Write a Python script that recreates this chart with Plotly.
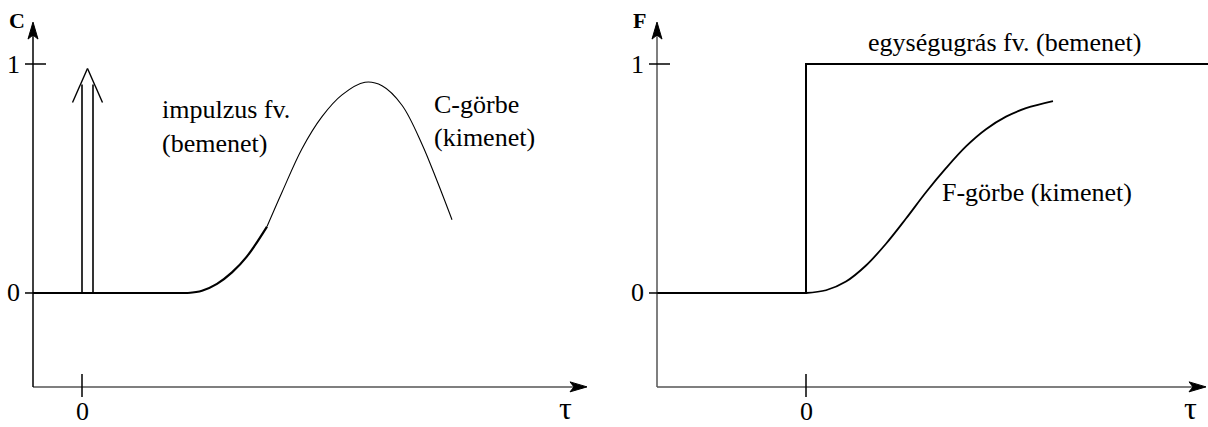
import plotly.graph_objects as go

W, H = 1208, 427

# ---------------------------------------------------------------- data
# Left panel: impulse input and C-curve response
c_flat_tau = [-0.49, 1.06]
c_flat_val = [0.0, 0.0]
c_rise_tau = [1.06, 1.2, 1.35, 1.5, 1.65, 1.85]
c_rise_val = [0.0, 0.01, 0.04, 0.09, 0.16, 0.29]
c_tail_tau = [1.85, 2.0, 2.2, 2.4, 2.6, 2.83, 3.0, 3.2, 3.4, 3.55, 3.70]
c_tail_val = [0.29, 0.44, 0.63, 0.77, 0.865, 0.92, 0.905, 0.82, 0.65, 0.49, 0.32]

imp_tau = [0.0, 0.11]      # the two strokes of the impulse arrow
imp_stem_top = 0.91
imp_apex = 0.98

# Right panel: unit step input and F-curve response
step_tau = [-1.49, 0.0, 0.0, 4.02]
step_val = [0.0, 0.0, 1.0, 1.0]
f_tau = [0.0, 0.2, 0.4, 0.6, 0.8, 1.0, 1.2, 1.4, 1.6, 1.8, 2.0, 2.2, 2.47]
f_val = [0.0, 0.012, 0.05, 0.12, 0.215, 0.325, 0.44, 0.545, 0.64, 0.715, 0.77, 0.807, 0.838]

y_ticks = [0, 1]
y_tick_text = ["0", "1"]
x_ticks = [0]
x_tick_text = ["0"]

# ---------------------------------------------------------------- geometry
X1 = [-0.82, 5.22]
X2 = [-2.02, 4.02]
YR = [-0.5852, 1.2795]
ORIGIN_X1, ORIGIN_X2, ORIGIN_Y = -0.49, -1.49, -0.41
TIP_X1, TIP_X2, TIP_Y = 5.05, 4.0, 1.183

sx = (W / 2) / (X1[1] - X1[0])   # px per τ unit
sy = H / (YR[1] - YR[0])         # px per response unit

SERIF = "Liberation Serif"
INK = "black"
AXIS = "#555555"
FS = 26

fig = go.Figure()


def curve(x, y, xa, ya, width):
    fig.add_trace(go.Scatter(x=x, y=y, mode="lines", xaxis=xa, yaxis=ya,
                             line=dict(color=INK, width=width, shape="spline", smoothing=1.0),
                             hoverinfo="skip", showlegend=False))


def seg(x0, y0, x1, y1, xr, yr, color=INK, width=1.5):
    fig.add_shape(type="line", x0=x0, y0=y0, x1=x1, y1=y1, xref=xr, yref=yr,
                  line=dict(color=color, width=width))


def head(xt, yt, up, xr, yr, L=17, Wd=5, N=4):
    if up:
        pts = [(xt, yt), (xt - Wd / sx, yt - L / sy), (xt, yt - (L - N) / sy), (xt + Wd / sx, yt - L / sy)]
    else:
        pts = [(xt, yt), (xt - L / sx, yt + Wd / sy), (xt - (L - N) / sx, yt), (xt - L / sx, yt - Wd / sy)]
    path = "M " + " L ".join(f"{px:.4f},{py:.4f}" for px, py in pts) + " Z"
    fig.add_shape(type="path", path=path, xref=xr, yref=yr, fillcolor=INK,
                  line=dict(color=INK, width=1))


def text(s, x, y, xr, yr, size=FS, anchor="left", bold=False, yanchor="middle"):
    fig.add_annotation(text=f"<b>{s}</b>" if bold else s, x=x, y=y, xref=xr, yref=yr,
                       xanchor=anchor, yanchor=yanchor, showarrow=False, borderpad=0,
                       font=dict(family=SERIF, size=size, color=INK))


# ---------------------------------------------------------------- axes frames
for ox, tipx, xr, yr, ycolor in [(ORIGIN_X1, TIP_X1, "x", "y", INK),
                                 (ORIGIN_X2, TIP_X2, "x2", "y2", AXIS)]:
    seg(ox, ORIGIN_Y, tipx - 10 / sx, ORIGIN_Y, xr, yr, AXIS, 1.5)
    seg(ox, ORIGIN_Y, ox, TIP_Y - 10 / sy, xr, yr, ycolor, 1.5)
    head(tipx, ORIGIN_Y, False, xr, yr)
    head(ox, TIP_Y, True, xr, yr)
    for v in y_ticks:
        seg(ox - 8 / sx, v, ox + 13 / sx, v, xr, yr, INK, 1.5)
    for v in x_ticks:
        seg(v, ORIGIN_Y - 10 / sy, v, ORIGIN_Y + 13 / sy, xr, yr, INK, 1.5)

# ---------------------------------------------------------------- left panel
curve(c_flat_tau, c_flat_val, "x", "y", 2)
curve(c_rise_tau, c_rise_val, "x", "y", 2.2)
curve(c_tail_tau, c_tail_val, "x", "y", 1.1)

for t in imp_tau:
    seg(t, 0, t, imp_stem_top, "x", "y", INK, 1.6)
mid = (imp_tau[0] + imp_tau[1]) / 2
arm_dx, arm_dy = 15 / sx, 34 / sy
seg(mid - arm_dx, imp_apex - arm_dy, mid, imp_apex, "x", "y", INK, 1.4)
seg(mid, imp_apex, mid + arm_dx, imp_apex - arm_dy, "x", "y", INK, 1.4)

# ---------------------------------------------------------------- right panel
fig.add_trace(go.Scatter(x=step_tau, y=step_val, mode="lines", xaxis="x2", yaxis="y2",
                         line=dict(color=INK, width=2), hoverinfo="skip", showlegend=False))
curve(f_tau, f_val, "x2", "y2", 1.8)

# ---------------------------------------------------------------- labels
text("C", -0.65, 1.192, "x", "y", 22, "center", bold=True)
text("F", -1.67, 1.192, "x2", "y2", 22, "center", bold=True)
for ox, xr, yr in [(ORIGIN_X1 - 0.2, "x", "y"), (ORIGIN_X2 - 0.2, "x2", "y2")]:
    for v, s in zip(y_ticks, y_tick_text):
        text(s, ox, v, xr, yr, FS, "center")
bottom_edge = YR[0] + 0.5 / sy
for xr, yr in [("x", "y"), ("x2", "y2")]:
    for v, s in zip(x_ticks, x_tick_text):
        text(s, v, bottom_edge, xr, yr, FS, "center", yanchor="bottom")
text("τ", 4.83, bottom_edge, "x", "y", 32, "center", yanchor="bottom")
text("τ", 3.84, bottom_edge, "x2", "y2", 32, "center", yanchor="bottom")

text("impulzus fv.", 0.79, 0.80, "x", "y")
text("(bemenet)", 0.79, 0.651, "x", "y")
text("C-görbe", 3.51, 0.821, "x", "y")
text("(kimenet)", 3.51, 0.677, "x", "y")
text("egységugrás fv. (bemenet)", 1.98, 1.092, "x2", "y2", FS, "center")
text("F-görbe (kimenet)", 1.35, 0.437, "x2", "y2")

hidden = dict(visible=False, fixedrange=True)
fig.update_layout(
    width=W, height=H,
    margin=dict(l=0, r=0, t=0, b=0),
    paper_bgcolor="white", plot_bgcolor="white",
    xaxis=dict(domain=[0, 0.5], range=X1, **hidden),
    yaxis=dict(domain=[0, 1], range=YR, **hidden),
    xaxis2=dict(domain=[0.5, 1], range=X2, anchor="y2", **hidden),
    yaxis2=dict(domain=[0, 1], range=YR, anchor="x2", **hidden),
    showlegend=False,
)

fig.write_html("out.html")
